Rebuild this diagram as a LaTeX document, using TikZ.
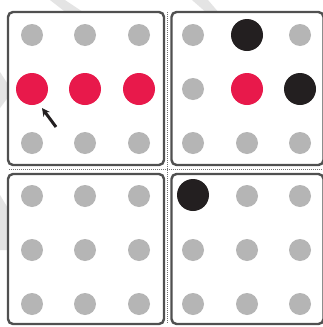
\documentclass[tikz,border=0pt]{standalone}
\usetikzlibrary{arrows.meta}
\definecolor{dotred}{HTML}{E8194B}
\definecolor{dotgray}{HTML}{B5B5B5}
\definecolor{dotblack}{HTML}{231F20}
\definecolor{frame}{HTML}{505050}
\definecolor{wm}{HTML}{E4E4E4}
\begin{document}
\begin{tikzpicture}[x=1pt,y=-1pt,
  panel/.style={draw=frame, line width=2.4pt, fill=white, rounded corners=5pt, inner sep=0pt},
  gdot/.style={circle, fill=dotgray, minimum size=22pt, inner sep=0pt},
  rdot/.style={circle, fill=dotred, minimum size=32pt, inner sep=0pt},
  bdot/.style={circle, fill=dotblack, minimum size=32pt, inner sep=0pt},
  gapline/.style={draw=frame!80, line width=1pt, dash pattern=on 1pt off 1pt},
  pointer/.style={-{Stealth[length=8pt,width=8pt]}, line width=3pt, draw=dotblack}]
\useasboundingbox (0,0) rectangle (322,327);
\fill[white] (0,0) rectangle (322,327);
% faint watermark streaks
\fill[wm] (50,0) -- (65,0) -- (86,14) -- (68,14) -- cycle;
\fill[wm] (192,0) -- (208,0) -- (220,14) -- (208,14) -- cycle;
\fill[wm] (0,72) -- (9,86) -- (9,96) -- (0,108) -- cycle;
\fill[wm] (0,195) -- (9,210) -- (9,250) -- (0,250) -- cycle;
% panels
\node[panel, minimum width=156pt, minimum height=153pt] (tl) at (86,88.5) {};
\node[panel, minimum width=152pt, minimum height=153pt] (tr) at (247.5,88.5) {};
\node[panel, minimum width=156pt, minimum height=150pt] (bl) at (86,249) {};
\node[panel, minimum width=152pt, minimum height=150pt] (br) at (247.5,249) {};
% dotted separators
\coordinate (vt) at (167.5,12);
\coordinate (vb) at (167.5,324);
\coordinate (hl) at (9,169.5);
\coordinate (hr) at (322,169.5);
\draw[gapline] (vt) -- (vb);
\draw[gapline] (hl) -- (hr);
% top-left panel
\node[gdot] (tl11) at (32,35) {};
\node[gdot] (tl12) at (85,35) {};
\node[gdot] (tl13) at (139,35) {};
\node[rdot] (tl21) at (32,89) {};
\node[rdot] (tl22) at (85,89) {};
\node[rdot] (tl23) at (139,89) {};
\node[gdot] (tl31) at (32,143) {};
\node[gdot] (tl32) at (85,143) {};
\node[gdot] (tl33) at (139,143) {};
% top-right panel
\node[gdot] (tr11) at (193,35) {};
\node[bdot] (tr12) at (247,35) {};
\node[gdot] (tr13) at (300,35) {};
\node[gdot] (tr21) at (193,89) {};
\node[rdot] (tr22) at (247,89) {};
\node[bdot] (tr23) at (300,89) {};
\node[gdot] (tr31) at (193,143) {};
\node[gdot] (tr32) at (247,143) {};
\node[gdot] (tr33) at (300,143) {};
% bottom-left panel
\node[gdot] (bl11) at (32,196) {};
\node[gdot] (bl12) at (85,196) {};
\node[gdot] (bl13) at (139,196) {};
\node[gdot] (bl21) at (32,250) {};
\node[gdot] (bl22) at (85,250) {};
\node[gdot] (bl23) at (139,250) {};
\node[gdot] (bl31) at (32,304) {};
\node[gdot] (bl32) at (85,304) {};
\node[gdot] (bl33) at (139,304) {};
% bottom-right panel
\node[bdot] (br11) at (193,195) {};
\node[gdot] (br12) at (247,196) {};
\node[gdot] (br13) at (300,196) {};
\node[gdot] (br21) at (193,250) {};
\node[gdot] (br22) at (247,250) {};
\node[gdot] (br23) at (300,250) {};
\node[gdot] (br31) at (193,304) {};
\node[gdot] (br32) at (247,304) {};
\node[gdot] (br33) at (300,304) {};
% pointer arrow
\coordinate (atail) at (56,127);
\coordinate (ahead) at (42,108);
\draw[pointer] (atail) -- (ahead);
\end{tikzpicture}
\end{document}
